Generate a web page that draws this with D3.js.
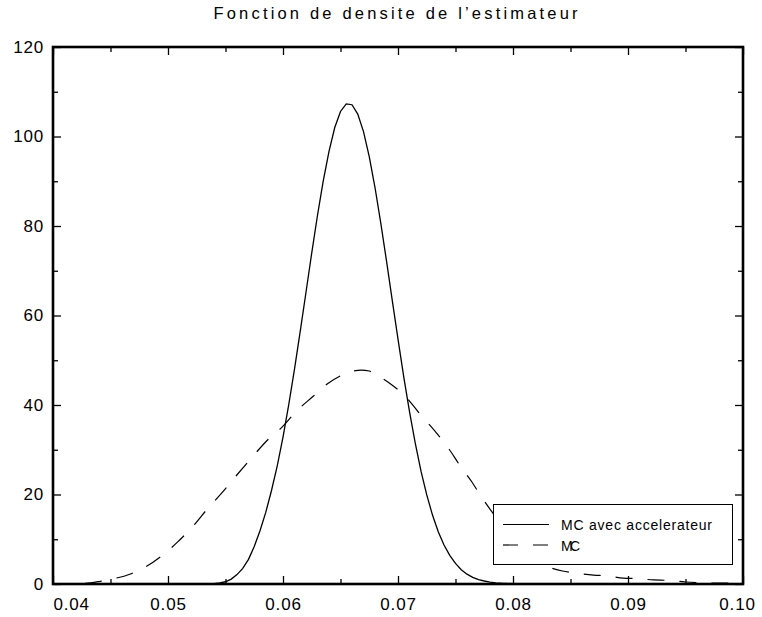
<!DOCTYPE html>
<html>
<head>
<meta charset="utf-8">
<script src="https://cdn.jsdelivr.net/npm/d3@7"></script>
<style>
  html, body { margin: 0; padding: 0; background: #fff; }
  svg { display: block; }
  text { font-family: "Liberation Sans", Arial, sans-serif; fill: #000; }
</style>
</head>
<body>
<svg id="chart" width="762" height="617"></svg>
<script>
// Density of the estimator: MC with control variate ("accelerateur") vs plain MC
const titleText = "Fonction de densite de l\u2019estimateur";

const accelX = [0.040, 0.050, 0.053, 0.054, 0.0545, 0.055, 0.0555, 0.056, 0.0565, 0.057,
                0.0575, 0.058, 0.0585, 0.059, 0.0595, 0.060, 0.0605, 0.061, 0.0615, 0.062,
                0.0625, 0.063, 0.0635, 0.064, 0.0645, 0.065, 0.0655, 0.066, 0.0665, 0.067,
                0.0675, 0.068, 0.0685, 0.069, 0.0695, 0.070, 0.0705, 0.071, 0.0715, 0.072,
                0.0725, 0.073, 0.0735, 0.074, 0.0745, 0.075, 0.0755, 0.076, 0.0765, 0.077,
                0.0775, 0.078, 0.0785, 0.079, 0.080, 0.090, 0.100];
const accelY = [0, 0, 0, 0.1, 0.25, 0.5, 1.1, 2.1, 3.5, 5.5,
                8.4, 11.9, 16.0, 20.9, 26.4, 32.8, 40.1, 48.0, 56.5, 65.2,
                74.0, 82.4, 90.1, 96.7, 102.0, 105.6, 107.3, 107.1, 105.0, 101.1,
                95.5, 88.6, 80.7, 72.2, 63.4, 54.7, 46.3, 38.5, 31.5, 25.2,
                19.9, 15.4, 11.7, 8.7, 6.4, 4.6, 3.2, 2.2, 1.5, 1.0,
                0.67, 0.43, 0.27, 0.17, 0.06, 0, 0];

const mcX = [0.040, 0.041, 0.042, 0.0428, 0.0441, 0.0453, 0.0468, 0.0481, 0.0495, 0.0508,
             0.0522, 0.0534, 0.0547, 0.0559, 0.0573, 0.0587, 0.0599, 0.0612, 0.0626, 0.0639,
             0.0653, 0.0661, 0.0668, 0.0675, 0.0680, 0.0693, 0.0708, 0.0719, 0.0732, 0.0744,
             0.0753, 0.0764, 0.0773, 0.0785, 0.0800, 0.0810, 0.0820, 0.0830, 0.0843, 0.0856,
             0.0870, 0.0882, 0.0896, 0.0908, 0.0922, 0.0935, 0.0950, 0.0961, 0.0980, 0.1000];
const mcY = [0.02, 0.05, 0.1, 0.15, 0.6, 1.2, 2.3, 3.9, 6.4, 9.3,
             13.0, 16.7, 20.4, 24.1, 28.3, 32.3, 35.0, 38.7, 41.9, 44.8,
             46.9, 47.6, 47.8, 47.6, 46.9, 44.8, 41.5, 38.0, 34.2, 30.3,
             26.8, 22.9, 19.3, 15.0, 10.5, 7.5, 5.3, 3.9, 2.9, 2.4,
             2.0, 1.8, 1.3, 1.2, 0.9, 0.8, 0.45, 0.3, 0.2, 0.15];

const seriesNames = ["MC avec accelerateur", "MC"];

const xMajor = [0.04, 0.05, 0.06, 0.07, 0.08, 0.09, 0.10];
const xMinor = [0.045, 0.055, 0.065, 0.075, 0.085, 0.095];
const xLabels = ["0.04", "0.05", "0.06", "0.07", "0.08", "0.09", "0.10"];
const yMajor = [0, 20, 40, 60, 80, 100, 120];
const yMinor = [10, 30, 50, 70, 90, 110];

const svg = d3.select("#chart");
const L = 53, R = 743, T = 47, B = 584;

const x = d3.scaleLinear().domain([0.04, 0.10]).range([L, R]);
const y = d3.scaleLinear().domain([0, 120]).range([B, T]);

// title
svg.append("text")
  .attr("x", 395.5).attr("y", 19)
  .attr("text-anchor", "middle")
  .attr("font-size", 16.5)
  .attr("textLength", 364).attr("lengthAdjust", "spacing")
  .text(titleText);

// curves
const accel = accelX.map((v, i) => [v, accelY[i]]);
const mc = mcX.map((v, i) => [v, mcY[i]]);

const lineLin = d3.line().x(d => x(d[0])).y(d => y(d[1]));
const lineSmooth = d3.line().x(d => x(d[0])).y(d => y(d[1])).curve(d3.curveMonotoneX);

svg.append("path").datum(mc)
  .attr("d", lineSmooth)
  .attr("fill", "none").attr("stroke", "#000")
  .attr("stroke-width", 1.2)
  .attr("stroke-dasharray", "17,15");

svg.append("path").datum(accel)
  .attr("d", lineLin)
  .attr("fill", "none").attr("stroke", "#000")
  .attr("stroke-width", 1.3);

// axes: ticks point inward on all four sides
function styleAxis(g) {
  g.select(".domain").remove();
  g.selectAll(".tick line").attr("stroke", "#000").attr("stroke-width", 1.3);
  g.selectAll("text").attr("font-size", 17).attr("letter-spacing", "0.8px")
    .attr("font-family", "'Liberation Sans', Arial, sans-serif").attr("fill", "#000");
}

const gx = svg.append("g").attr("transform", `translate(0,${B})`)
  .call(d3.axisBottom(x).tickValues(xMajor).tickSize(-8).tickPadding(14)
        .tickFormat((d, i) => xLabels[i]))
  .call(styleAxis);
gx.selectAll(".tick text").each(function(d, i) {
  if (i === 0) d3.select(this).attr("text-anchor", "start");
  if (i === xMajor.length - 1) d3.select(this).attr("dx", -6);
});
svg.append("g").attr("transform", `translate(0,${B})`)
  .call(d3.axisBottom(x).tickValues(xMinor).tickSize(-5).tickFormat(""))
  .call(styleAxis);

svg.append("g").attr("transform", `translate(0,${T})`)
  .call(d3.axisTop(x).tickValues(xMajor).tickSize(-8).tickFormat(""))
  .call(styleAxis);
svg.append("g").attr("transform", `translate(0,${T})`)
  .call(d3.axisTop(x).tickValues(xMinor).tickSize(-5).tickFormat(""))
  .call(styleAxis);

svg.append("g").attr("transform", `translate(${L},0)`)
  .call(d3.axisLeft(y).tickValues(yMajor).tickSize(-8).tickPadding(9).tickFormat(d3.format("d")))
  .call(styleAxis);
svg.append("g").attr("transform", `translate(${L},0)`)
  .call(d3.axisLeft(y).tickValues(yMinor).tickSize(-5).tickFormat(""))
  .call(styleAxis);

svg.append("g").attr("transform", `translate(${R},0)`)
  .call(d3.axisRight(y).tickValues(yMajor).tickSize(-8).tickFormat(""))
  .call(styleAxis);
svg.append("g").attr("transform", `translate(${R},0)`)
  .call(d3.axisRight(y).tickValues(yMinor).tickSize(-5).tickFormat(""))
  .call(styleAxis);

// frame
svg.append("rect")
  .attr("x", L).attr("y", T).attr("width", R - L).attr("height", B - T)
  .attr("fill", "none").attr("stroke", "#000").attr("stroke-width", 2.6);

// legend
const lg = svg.append("g");
lg.append("rect")
  .attr("x", 493.5).attr("y", 504.5).attr("width", 239).attr("height", 60)
  .attr("fill", "#fff").attr("stroke", "#000").attr("stroke-width", 1);
const rows = [
  { name: seriesNames[0], y: 524.5, dash: null, len: 151 },
  { name: seriesNames[1], y: 545, dash: "15,15", len: 19 }
];
rows.forEach(r => {
  lg.append("line")
    .attr("x1", 503).attr("x2", 549).attr("y1", r.y).attr("y2", r.y)
    .attr("stroke", "#000").attr("stroke-width", 1.2)
    .attr("stroke-dasharray", r.dash);
  lg.append("text")
    .attr("x", 561).attr("y", r.y + 5.5)
    .attr("font-size", 14)
    .attr("textLength", r.len).attr("lengthAdjust", "spacing")
    .text(r.name);
});
</script>
</body>
</html>
